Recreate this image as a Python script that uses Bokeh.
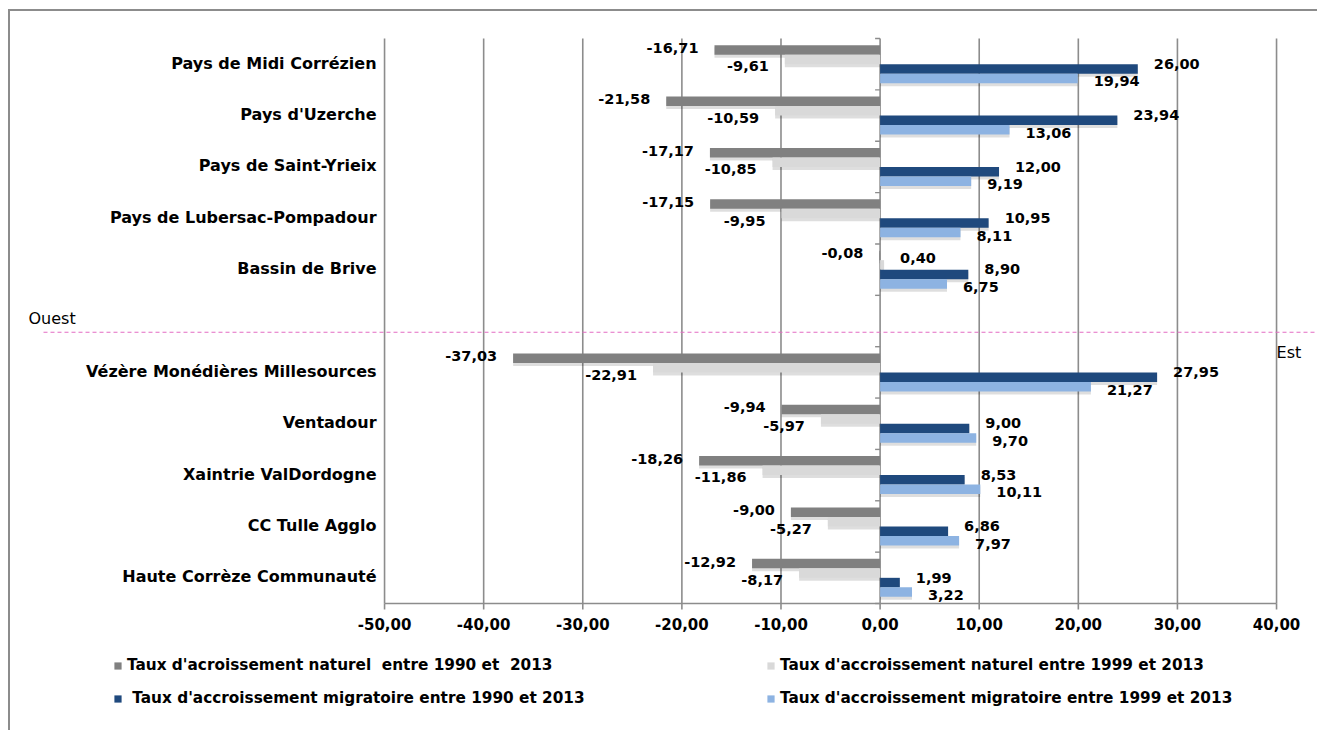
from bokeh.plotting import figure
from bokeh.models import ColumnDataSource, Legend, LegendItem, Range1d
from bokeh.core.properties import value
from bokeh.embed import file_html
from bokeh.resources import INLINE

# ---------------------------------------------------------------- data
west = ["Pays de Midi Corrézien", "Pays d'Uzerche", "Pays de Saint-Yrieix",
        "Pays de Lubersac-Pompadour", "Bassin de Brive"]
east = ["Vézère Monédières Millesources", "Ventadour", "Xaintrie ValDordogne",
        "CC Tulle Agglo", "Haute Corrèze Communauté"]

nat_1990 = [-16.71, -21.58, -17.17, -17.15, -0.08,
            -37.03, -9.94, -18.26, -9.00, -12.92]
nat_1999 = [-9.61, -10.59, -10.85, -9.95, 0.40,
            -22.91, -5.97, -11.86, -5.27, -8.17]
mig_1990 = [26.00, 23.94, 12.00, 10.95, 8.90,
            27.95, 9.00, 8.53, 6.86, 1.99]
mig_1999 = [19.94, 13.06, 9.19, 8.11, 6.75,
            21.27, 9.70, 10.11, 7.97, 3.22]

series_labels = [
    "Taux d'acroissement naturel  entre 1990 et  2013",
    "Taux d'accroissement naturel entre 1999 et 2013",
    " Taux d'accroissement migratoire entre 1990 et 2013",
    "Taux d'accroissement migratoire entre 1999 et 2013",
]
x_ticks = [-50, -40, -30, -20, -10, 0, 10, 20, 30, 40]
side_labels = ["Ouest", "Est"]

# ---------------------------------------------------------------- layout
PAGE_W, PAGE_H = 1319, 732
BOX_LEFT, BOX_TOP, BORDER = 8, 9, 2
CANVAS_LEFT, CANVAS_TOP = BOX_LEFT + BORDER, BOX_TOP + BORDER
W, H = PAGE_W - CANVAS_LEFT, PAGE_H - CANVAS_TOP

ZERO_X, UNIT_X = 879.6, 9.911      # page px of x=0, px per unit
BASE_Y, SLOT_H = 603, 51.36        # page px of y=0, px per category slot
FRAME_L, FRAME_R, FRAME_T, FRAME_B = 16, PAGE_W, 20, PAGE_H


def px_to_x(px):
    return (px - ZERO_X) / UNIT_X


def py_to_y(py):
    return (BASE_Y - py) / SLOT_H


def fmt(v):
    return f"{v:.2f}".replace(".", ",")


categories = west + [""] + east        # empty slot between the two groups
n_slots = len(categories)
slot_of = [i for i, c in enumerate(categories) if c]
y_center = [n_slots - k - 0.5 for k in slot_of]

GRID = "#8c8c8c"
COLORS = ["#808080", "#d9d9d9", "#1f497d", "#8db3e2"]
FONT = "DejaVu Sans"
BAR_H = 9.5 / SLOT_H

p = figure(width=W, height=H,
           x_range=Range1d(px_to_x(FRAME_L), px_to_x(FRAME_R)),
           y_range=Range1d(py_to_y(FRAME_B), py_to_y(FRAME_T)),
           min_border_left=FRAME_L - CANVAS_LEFT, min_border_right=0,
           min_border_top=FRAME_T - CANVAS_TOP, min_border_bottom=0,
           x_axis_location=None, y_axis_location=None,
           output_backend="svg", toolbar_location=None,
           margin=(BOX_TOP, 0, 0, BOX_LEFT),
           styles={"border-left": f"{BORDER}px solid {GRID}",
                   "border-top": f"{BORDER}px solid {GRID}"})
p.xgrid.visible = False
p.ygrid.visible = False
p.outline_line_color = None
p.background_fill_color = "white"
p.border_fill_color = "white"

# vertical gridlines
p.segment(x0=x_ticks, x1=x_ticks, y0=[0] * len(x_ticks),
          y1=[n_slots] * len(x_ticks), line_color=GRID, line_width=1.6)
# bottom value axis: line, ticks and labels
p.segment(x0=[x_ticks[0]], x1=[x_ticks[-1]], y0=[0], y1=[0],
          line_color=GRID, line_width=1.6)
p.segment(x0=x_ticks, x1=x_ticks, y0=[0] * len(x_ticks),
          y1=[-6 / SLOT_H] * len(x_ticks), line_color=GRID, line_width=1.6)
p.text(x=x_ticks, y=[0] * len(x_ticks), text=[fmt(t) for t in x_ticks],
       y_offset=20, text_font=value(FONT), text_font_style="bold",
       text_font_size="15px", text_color="black", text_align="center",
       text_baseline="middle")
# category ticks on the zero line
bounds = list(range(n_slots + 1))
p.segment(x0=[-5 / UNIT_X] * len(bounds), x1=[0] * len(bounds),
          y0=bounds, y1=bounds, line_color=GRID, line_width=1.4)

# Ouest / Est separator
SEP_Y = py_to_y(331.7)
p.segment(x0=[px_to_x(43)], x1=[px_to_x(PAGE_W)], y0=[SEP_Y], y1=[SEP_Y],
          line_color="#e36cc4", line_width=1.1, line_dash="4 3")
p.text(x=[px_to_x(28)], y=[SEP_Y], text=[side_labels[0]], y_offset=[-14],
       text_font=value(FONT), text_font_size="16px", text_color="black",
       text_align="left", text_baseline="middle")
p.text(x=[x_ticks[-1]], y=[SEP_Y], text=[side_labels[1]], y_offset=[20],
       text_font=value(FONT), text_font_size="16px", text_color="black",
       text_align="left", text_baseline="middle")

# category names
p.text(x=[x_ticks[0]] * len(y_center), y=y_center,
       text=[c for c in categories if c], x_offset=-8, y_offset=-1,
       text_font=value(FONT), text_font_style="bold", text_font_size="16px",
       text_color="black", text_align="right", text_baseline="middle")

# bars, top to bottom inside each slot
series = [nat_1990, nat_1999, mig_1990, mig_1999]
label_dy = [-2, 7, -5, 3]
for i, vals in enumerate(series):
    ys = [yc + (1.5 - i) * BAR_H for yc in y_center]
    shadow = ColumnDataSource(dict(y=[y - 2.5 / SLOT_H for y in ys], right=vals))
    p.hbar(y="y", left=0, right="right", height=BAR_H + 1 / SLOT_H,
           source=shadow, fill_color="black", fill_alpha=0.13, line_color=None)
renderers = []
for i, (vals, color) in enumerate(zip(series, COLORS)):
    ys = [yc + (1.5 - i) * BAR_H for yc in y_center]
    src = ColumnDataSource(dict(y=ys, right=vals))
    r = p.hbar(y="y", left=0, right="right", height=BAR_H, source=src,
               fill_color=color, line_color=None)
    renderers.append(r)
    # a positive natural-growth label sits above its bar, clear of the blue bars
    dy = [label_dy[i] if (v < 0 or i >= 2) else -label_dy[i] for v in vals]
    lab = ColumnDataSource(dict(
        x=vals, y=ys, text=[fmt(v) for v in vals],
        align=["right" if v < 0 else "left" for v in vals],
        dx=[-16 if v < 0 else 16 for v in vals], dy=dy,
    ))
    p.text(x="x", y="y", text="text", source=lab, text_align="align",
           x_offset="dx", y_offset="dy",
           text_font=value(FONT), text_font_style="bold",
           text_font_size="14.5px", text_color="black", text_baseline="middle")

# legend in two columns below the chart
legend_style = dict(orientation="vertical", glyph_width=9, glyph_height=9,
                    label_standoff=5, spacing=13, label_height=20, padding=0,
                    margin=0, border_line_alpha=0, background_fill_alpha=0,
                    label_text_font=FONT, label_text_font_style="bold",
                    label_text_font_size="15.3px", label_text_color="black")
LEGEND_BOTTOM = 708
legend_left = Legend(items=[LegendItem(label=series_labels[0], renderers=[renderers[0]]),
                            LegendItem(label=series_labels[2], renderers=[renderers[2]])],
                     location=(113 - FRAME_L, FRAME_B - LEGEND_BOTTOM), **legend_style)
legend_right = Legend(items=[LegendItem(label=series_labels[1], renderers=[renderers[1]]),
                             LegendItem(label=series_labels[3], renderers=[renderers[3]])],
                      location=(766 - FRAME_L, FRAME_B - LEGEND_BOTTOM), **legend_style)
p.add_layout(legend_left)
p.add_layout(legend_right)

open("out.html", "w").write(file_html(p, INLINE))
